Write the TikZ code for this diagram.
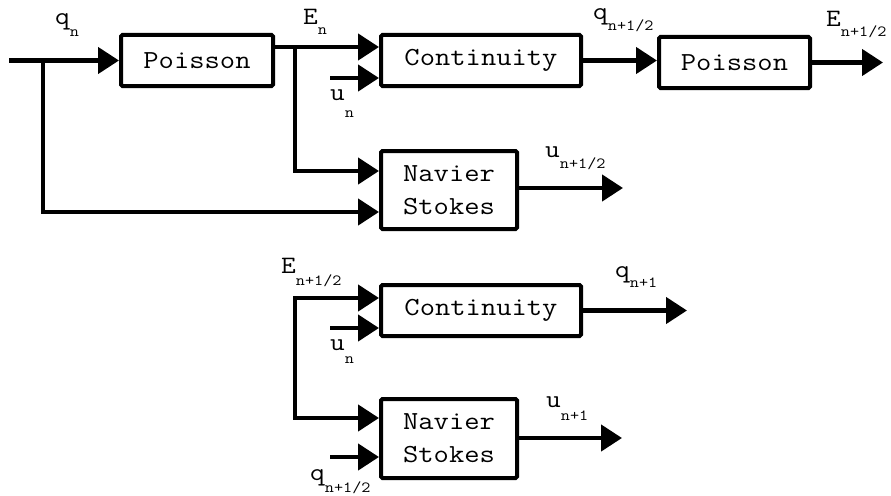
\documentclass[tikz,border=0pt]{standalone}
\usepackage{fontspec}
% typewriter face widened to a 0.6em advance
\setmainfont{Latin Modern Mono}[FakeStretch=1.143]
\usetikzlibrary{arrows.meta,calc}

% subscript set smaller and dropped by #1 pt
\newcommand{\lowsub}[2]{\raisebox{-#1pt}{\fontsize{15.5}{16}\selectfont #2}}

\tikzset{
  block/.style={draw, line width=4pt, rounded corners=1.5pt, inner sep=0pt,
    font=\fontsize{26}{33}\selectfont, align=center},
  flow/.style={line width=4.5pt, -{Triangle[length=21pt,width=26pt]}},
  twoway/.style={line width=4.5pt, {Triangle[length=21pt,width=26pt]}-{Triangle[length=21pt,width=26pt]}},
  sym/.style={anchor=base west, inner sep=0pt, font=\fontsize{25}{25}\selectfont},
}

\begin{document}
\begin{tikzpicture}[x=1pt, y=-1pt]
\useasboundingbox (0,0) rectangle (891,495);

% first half step
\node[block, minimum width=152pt, minimum height=51pt] (p1) at (197,60.5) {Poisson};
\node[block, minimum width=200pt, minimum height=51pt] (c1) at (481,60.5) {Continuity};
\node[block, minimum width=151pt, minimum height=51pt] (p2) at (734.5,62.5) {Poisson};
\node[block, minimum width=136pt, minimum height=78pt] (ns1) at (449,190) {Navier\\Stokes};

% second half step
\node[block, minimum width=200pt, minimum height=51pt] (c2) at (481,310.5) {Continuity};
\node[block, minimum width=136pt, minimum height=79pt] (ns2) at (449,438.5) {Navier\\Stokes};

% free ends and branch points
\coordinate (qin) at (9,60.5);
\coordinate (qsplit) at (43,60.5);
\coordinate (esplit) at (295,47);
\coordinate (unin) at (330,78);
\coordinate (eout) at (883,62.5);
\coordinate (uhalf) at (623,188);
\coordinate (ebend) at (295,298);
\coordinate (unin2) at (330,328);
\coordinate (qout) at (687,310.5);
\coordinate (uout) at (622,438);
\coordinate (qhin) at (330,457);

% connectors, top
\draw[flow] (qin) -- (p1.west);
\draw[flow] (qsplit) |- ([yshift=-22pt]ns1.west);
\draw[flow] ([yshift=13.5pt]p1.east) -- ([yshift=13.5pt]c1.west);
\draw[flow] (esplit) |- ([yshift=19pt]ns1.west);
\draw[flow] (unin) -- ([yshift=-17.5pt]c1.west);
\draw[flow] (c1.east) -- (c1.east -| p2.west);
\draw[flow] (p2.east) -- (eout);
\draw[flow] (ns1.east |- uhalf) -- (uhalf);

% connectors, bottom
\draw[twoway] ([yshift=12.5pt]c2.west) -- (ebend) |- ([yshift=20.5pt]ns2.west);
\draw[flow] (unin2) -- ([yshift=-17.5pt]c2.west);
\draw[flow] (c2.east) -- (qout);
\draw[flow] (ns2.east |- uout) -- (uout);
\draw[flow] (qhin) -- ([yshift=-18.5pt]ns2.west);

% signal labels
\node[sym] (lq) at (55,25) {q\lowsub{12}{n}};
\node[sym] (le) at (303,25) {E\lowsub{10}{n}};
\node[sym] (lu) at (330,100) {u\lowsub{17}{n}};
\node[sym] (lqh) at (593,20) {q\lowsub{10}{n+1/2}};
\node[sym] (leh) at (826,27) {E\lowsub{10}{n+1/2}};
\node[sym] (luh) at (545,157) {u\lowsub{11}{n+1/2}};

\node[sym] (leh2) at (281,273) {E\lowsub{12}{n+1/2}};
\node[sym] (lu2) at (330,350) {u\lowsub{13}{n}};
\node[sym] (lq1) at (615,277) {q\lowsub{10}{n+1}};
\node[sym] (lu1) at (546,407) {u\lowsub{13}{n+1}};
\node[sym] (lqh2) at (310,480) {q\lowsub{12}{n+1/2}};
\end{tikzpicture}
\end{document}
